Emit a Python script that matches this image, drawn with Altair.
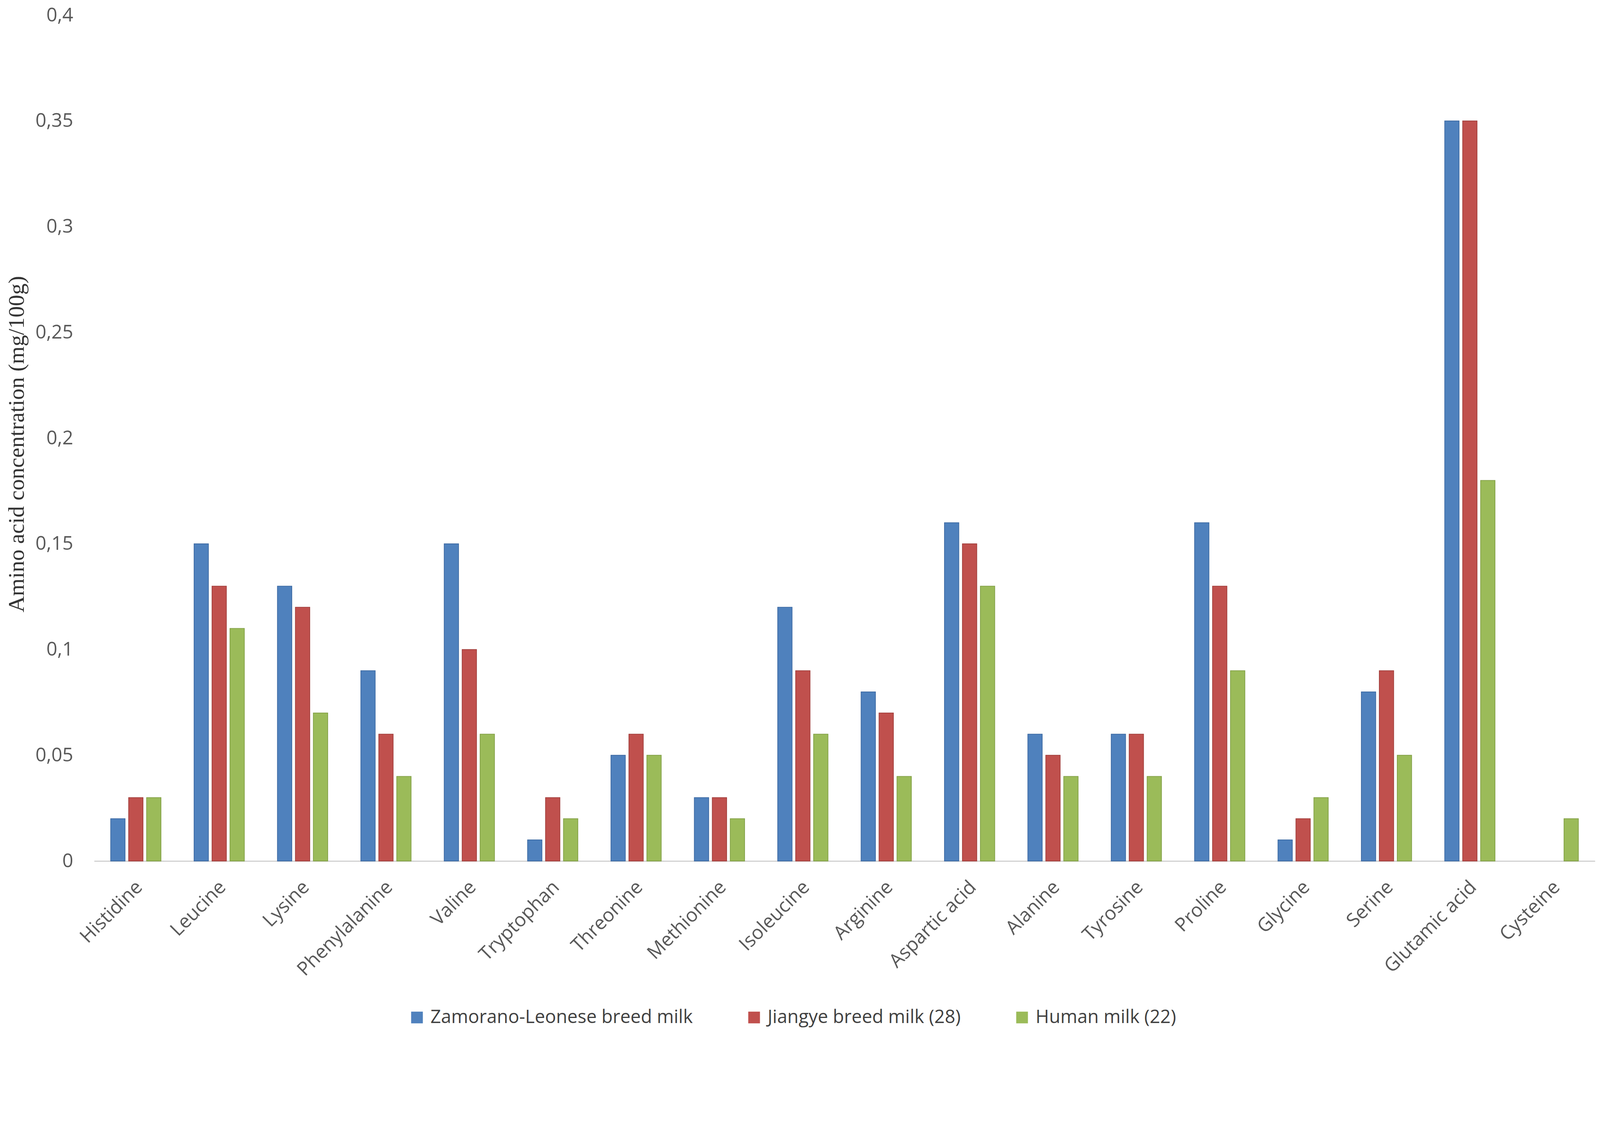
import altair as alt
import pandas as pd

categories = ["Histidine", "Leucine", "Lysine", "Phenylalanine", "Valine", "Tryptophan",
              "Threonine", "Methionine", "Isoleucine", "Arginine", "Aspartic acid", "Alanine",
              "Tyrosine", "Proline", "Glycine", "Serine", "Glutamic acid", "Cysteine"]
series_names = ["Zamorano-Leonese breed milk", "Jiangye breed milk (28)", "Human milk (22)"]
zamorano = [0.02, 0.15, 0.13, 0.09, 0.15, 0.01, 0.05, 0.03, 0.12, 0.08, 0.16, 0.06, 0.06, 0.16, 0.01, 0.08, 0.35, None]
jiangye = [0.03, 0.13, 0.12, 0.06, 0.10, 0.03, 0.06, 0.03, 0.09, 0.07, 0.15, 0.05, 0.06, 0.13, 0.02, 0.09, 0.35, None]
human = [0.03, 0.11, 0.07, 0.04, 0.06, 0.02, 0.05, 0.02, 0.06, 0.04, 0.13, 0.04, 0.04, 0.09, 0.03, 0.05, 0.18, 0.02]
y_ticks = [0, 0.05, 0.1, 0.15, 0.2, 0.25, 0.3, 0.35, 0.4]
fill_colors = ["#4F81BD", "#C0504D", "#9BBB59"]
stroke_colors = ["#3D6AA3", "#A23F3C", "#82A046"]

rows = []
for name, vals in zip(series_names, [zamorano, jiangye, human]):
    for cat, v in zip(categories, vals):
        if v is not None:
            rows.append({"amino": cat, "series": name, "value": v})
df = pd.DataFrame(rows)

chart = alt.Chart(df).mark_bar(strokeWidth=1.8).encode(
    x=alt.X("amino:N", sort=categories,
            scale=alt.Scale(paddingInner=0.354, paddingOuter=0.177),
            axis=alt.Axis(title=None, labelAngle=-45, labelAlign="right", labelBaseline="middle",
                          labelPadding=59, labelOffset=9, ticks=False, grid=False, labelLimit=0,
                          domainColor="#c8c8c8", domainWidth=2.7,
                          labelFont="Open Sans", labelFontSize=49, labelColor="#595959")),
    xOffset=alt.XOffset("series:N", sort=series_names,
                        scale=alt.Scale(paddingInner=0.2, paddingOuter=0.1)),
    y=alt.Y("value:Q", scale=alt.Scale(domain=[0, 0.4], nice=False),
            axis=alt.Axis(values=y_ticks, grid=False, domain=False, ticks=False,
                          labelExpr="replace(format(datum.value, '~g'), '.', ',')",
                          labelPadding=54, labelFont="Open Sans", labelFontSize=49,
                          labelColor="#595959",
                          title="Amino acid concentration (mg/100g)",
                          titleFont="Liberation Serif", titleFontSize=58, titleFontWeight="normal",
                          titleColor="#333333", titleAngle=-90, titleX=-181, titleY=1098,
                          titleAlign="center", titleBaseline="alphabetic", titleLimit=0)),
    fill=alt.Fill("series:N", sort=series_names,
                  scale=alt.Scale(domain=series_names, range=fill_colors),
                  legend=alt.Legend(title=None, orient="none", legendX=803, legendY=2543,
                                    direction="horizontal", symbolType="square", symbolSize=900,
                                    symbolStrokeWidth=0, labelFont="Open Sans", labelFontSize=47,
                                    labelColor="#404040", columnPadding=133, labelOffset=11,
                                    labelLimit=0)),
    stroke=alt.Stroke("series:N", scale=alt.Scale(domain=series_names, range=stroke_colors),
                      legend=None),
).properties(
    width=3842, height=2166,
    autosize=alt.AutoSizeParams(type="none"),
    padding={"left": 233, "top": 31, "right": 5, "bottom": 431},
    background="white",
).configure_view(stroke=None)

chart.save("out.html", embed_options={"renderer": "svg", "actions": False})
